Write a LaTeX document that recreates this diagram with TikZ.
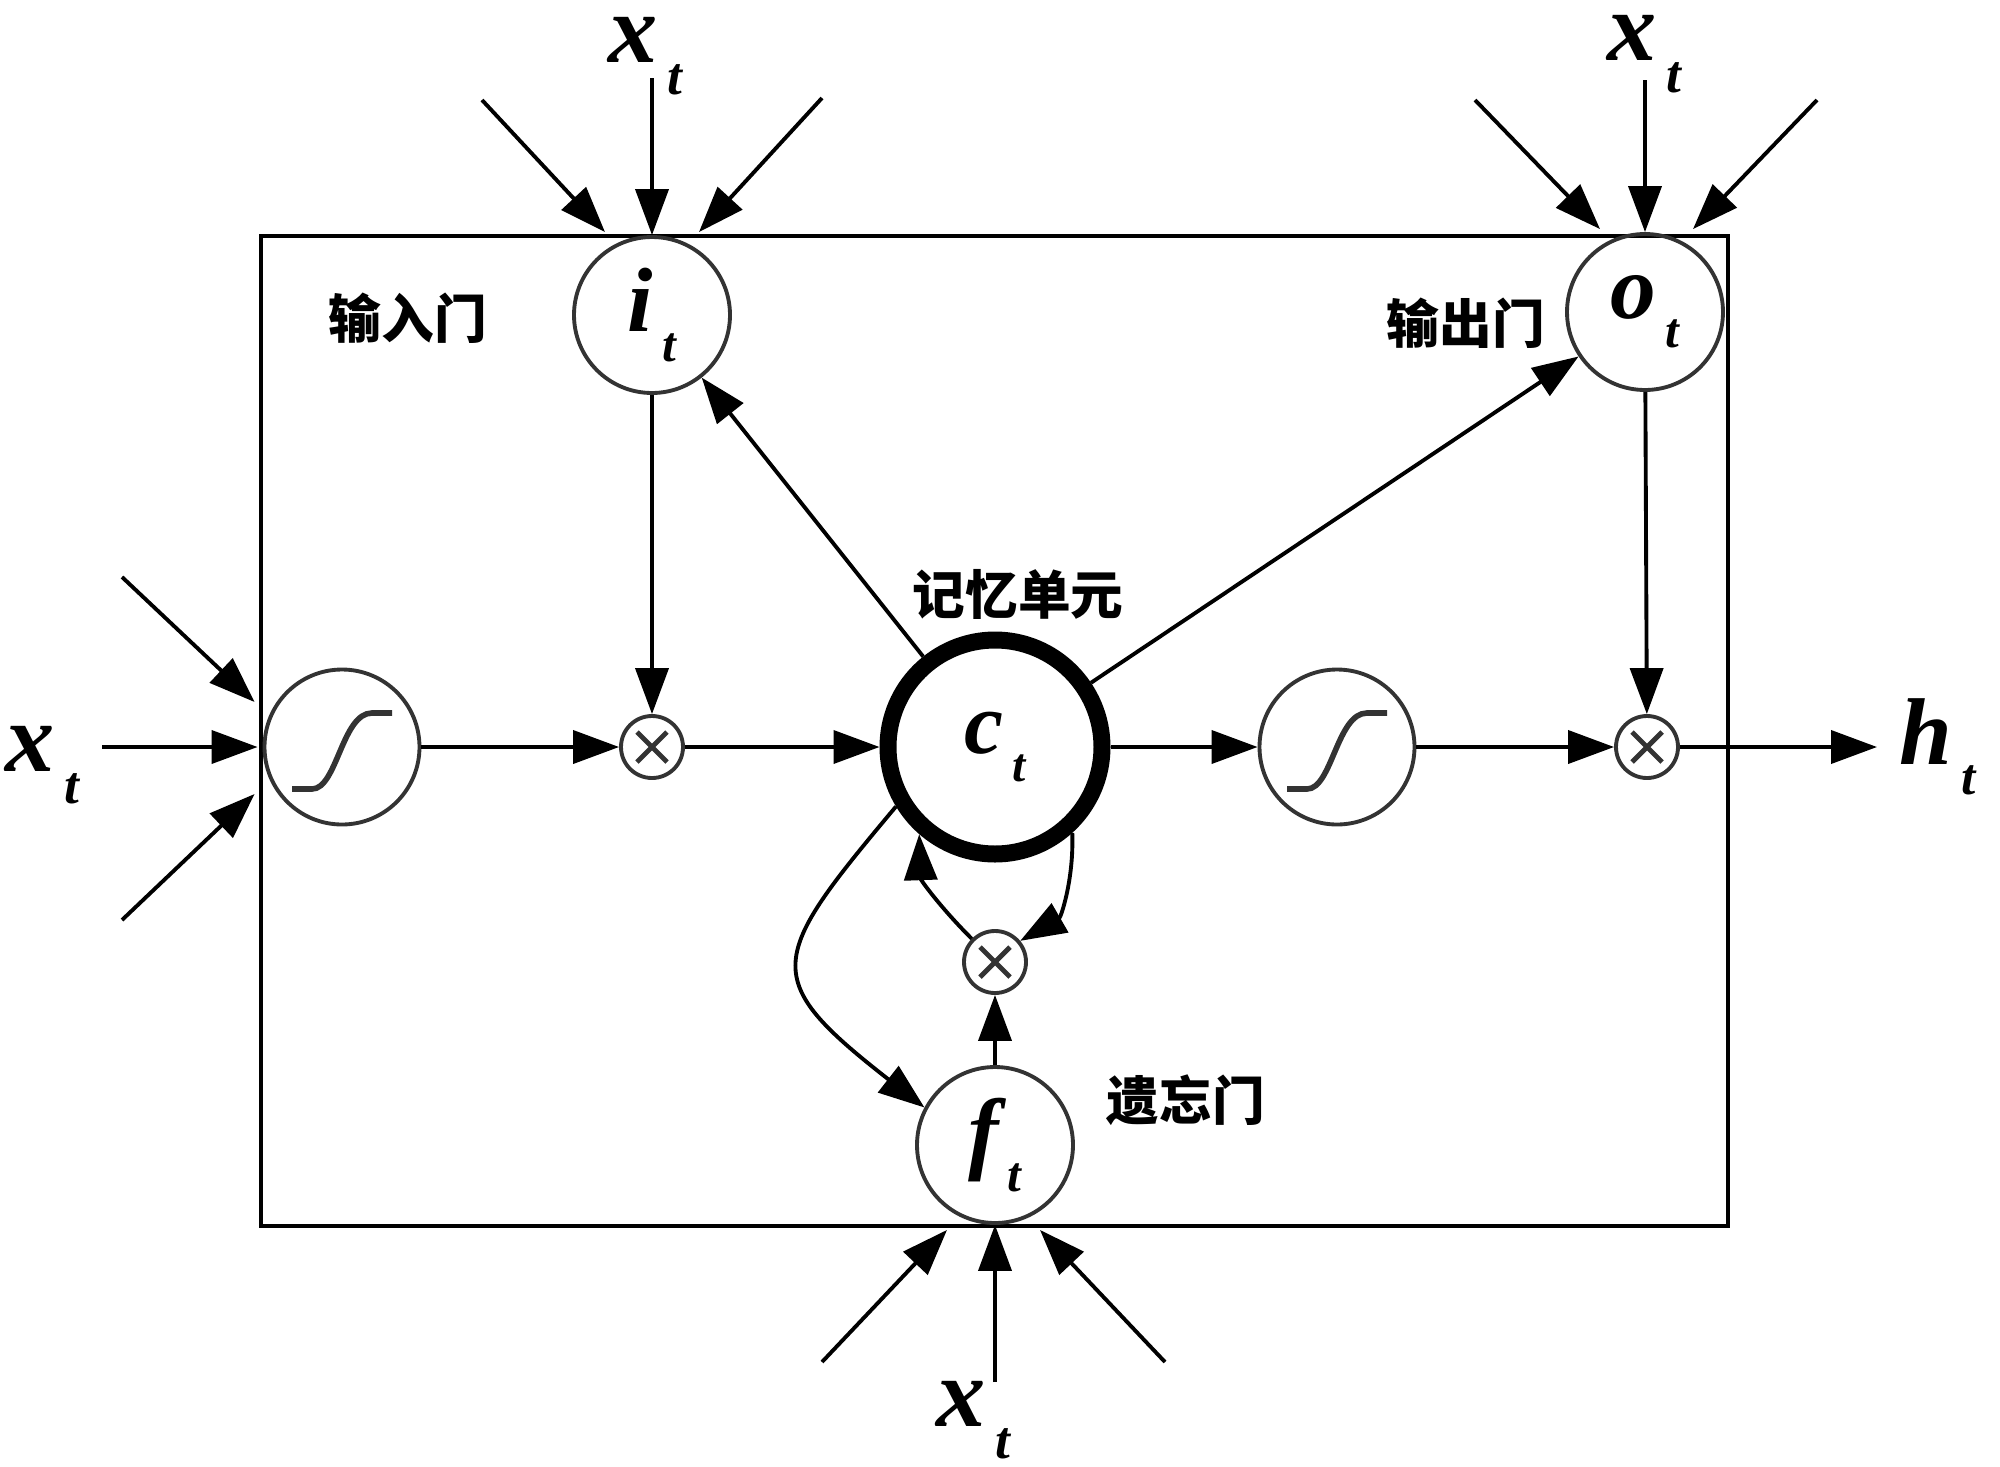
\documentclass[tikz,border=0pt]{standalone}
\usepackage{fontspec}
\setmainfont{Liberation Serif}
\newfontfamily\cjk{Noto Sans CJK SC}
\usepackage{tikz}
\usetikzlibrary{arrows.meta, positioning, calc}

\newcommand{\vsub}[2]{\textbf{\textit{#1\kern0.1em\raisebox{-0.32em}{\scalebox{0.54}{#2}}}}}

\begin{document}
\begin{tikzpicture}[
  gate/.style={draw=black!80, line width=1.1pt, circle, minimum size=1.56cm,
               inner sep=0pt, font=\fontsize{26}{26}\selectfont},
  cell/.style={draw, line width=1.7mm, circle, minimum size=2.14cm,
               inner sep=0pt, font=\fontsize{25}{25}\selectfont},
  mult/.style={draw=black!80, line width=1.1pt, circle, minimum size=0.62cm, inner sep=0pt,
               path picture={\draw[line width=1.4pt, shift={(path picture bounding box.center)}]
                 (-0.15,-0.15) -- (0.15,0.15) (-0.15,0.15) -- (0.15,-0.15);}},
  squash/.style={draw=black!80, line width=1.1pt, circle, minimum size=1.55cm, inner sep=0pt,
               path picture={\draw[line width=1.6pt, shift={(path picture bounding box.center)}]
                 (-0.5,-0.42) -- (-0.3,-0.42) .. controls (-0.05,-0.42) and (0,0.34) .. (0.3,0.34) -- (0.5,0.34);}},
  arr/.style={-{Triangle[length=4.6mm, width=3.3mm]}, line width=1.1pt},
  zh/.style={font=\cjk\bfseries\fontsize{15}{15}\selectfont, inner sep=0pt},
  inp/.style={font=\fontsize{28}{28}\selectfont, inner sep=0pt}
]
  \useasboundingbox (0,0) rectangle (20,-14.66);

  \draw[line width=1.2pt] (2.61,-2.36) rectangle (17.28,-12.26);

  \node[gate] (it) at (6.52,-3.15) {\vsub{i}{t}};
  \node[gate] (ot) at (16.45,-3.12) {\vsub{o}{t}};
  \node[gate] (ft) at (9.95,-11.45) {\vsub{f}{t}};
  \node[cell] (ct) at (9.95,-7.47) {\vsub{c}{t}};

  \node[squash] (sigL) at (3.42,-7.47) {};
  \node[squash] (sigR) at (13.37,-7.47) {};
  \node[mult] (m1) at (6.52,-7.47) {};
  \node[mult] (m2) at (16.47,-7.47) {};
  \node[mult] (mf) at (9.95,-9.62) {};

  \node[zh] (lit) at (4.08,-3.18) {输入门};
  \node[zh] (lot) at (14.66,-3.23) {输出门};
  \node[zh] (lct) at (10.18,-5.94) {记忆单元};
  \node[zh] (lft) at (11.86,-11.00) {遗忘门};

  \coordinate (xi1) at (4.82,-1.00);
  \coordinate (xi2) at (6.52,-0.78);
  \coordinate (xi3) at (8.22,-0.98);
  \coordinate (xo1) at (14.75,-1.00);
  \coordinate (xo2) at (16.45,-0.80);
  \coordinate (xo3) at (18.17,-1.00);
  \coordinate (xl1) at (1.22,-5.77);
  \coordinate (xl2) at (1.02,-7.47);
  \coordinate (xl3) at (1.22,-9.20);
  \coordinate (xf1) at (8.22,-13.62);
  \coordinate (xf2) at (9.95,-13.82);
  \coordinate (xf3) at (11.65,-13.62);
  \coordinate (hend) at (18.77,-7.47);

  \node[inp] (xti) at (6.45,-0.56) {\vsub{x}{t}};
  \node[inp] (xto) at (16.44,-0.54) {\vsub{x}{t}};
  \node[inp] (xtl) at (0.42,-7.65) {\vsub{x}{t}};
  \node[inp] (xtf) at (9.73,-14.20) {\vsub{x}{t}};
  \node[inp, font=\fontsize{27}{27}\selectfont, right=0.22cm of hend] (ht) {\vsub{h}{t}};

  \draw[arr] (xi1) -- ($(it.north)+(-0.47,0.03)$);
  \draw[arr] (xi2) -- (it.north);
  \draw[arr] (xi3) -- ($(it.north)+(0.47,0.03)$);
  \draw[arr] (xo1) -- ($(ot.north)+(-0.45,0.03)$);
  \draw[arr] (xo2) -- (ot.north);
  \draw[arr] (xo3) -- ($(ot.north)+(0.48,0.03)$);
  \draw[arr] (xl1) -- ($(sigL.west)+(-0.08,0.45)$);
  \draw[arr] (xl2) -- ($(sigL.west)+(-0.05,0)$);
  \draw[arr] (xl3) -- ($(sigL.west)+(-0.08,-0.47)$);
  \draw[arr] (xf1) -- ($(ft.south)+(-0.48,-0.05)$);
  \draw[arr] (xf2) -- (ft.south);
  \draw[arr] (xf3) -- ($(ft.south)+(0.45,-0.05)$);

  \draw[arr] (sigL) -- (m1);
  \draw[arr] (it) -- (m1);
  \draw[arr] (m1) -- (ct);
  \draw[arr] (ct) -- (it);
  \draw[arr] (ct) -- (ot);
  \draw[arr] (ct) -- (sigR);
  \draw[arr] (sigR) -- (m2);
  \draw[arr] (ot) -- (m2);
  \draw[arr] (m2) -- (hend);

  \draw[arr] (ct.211) .. controls +(230:2.0) and +(142:2.1) .. (ft.152);
  \draw[arr] (ct.-48) to[out=-88, in=30] (mf.40);
  \draw[arr] (mf.135) to[out=135, in=-88] (ct.229);
  \draw[arr] (ft) -- (mf);
\end{tikzpicture}
\end{document}
